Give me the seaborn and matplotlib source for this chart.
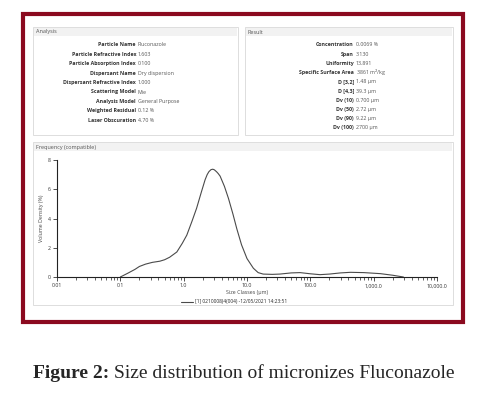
import matplotlib
matplotlib.use('Agg')
import matplotlib.pyplot as plt
from matplotlib.patches import Rectangle
from matplotlib.ticker import FixedLocator, LogLocator, NullFormatter
import pandas as pd
import seaborn as sns

W, H = 497, 393

# size classes (um) and volume density (%)
size_um = [0.1, 0.13, 0.17, 0.2, 0.25, 0.32, 0.42, 0.5, 0.6, 0.78, 0.95, 1.12, 1.35,
           1.6, 1.9, 2.18, 2.35, 2.5, 2.7, 2.88, 3.05, 3.3, 3.5, 3.76, 4.4, 5.1, 6.0,
           6.9, 8.2, 10.0, 12.6, 15.0, 18.0, 25.0, 33.0, 50.0, 69.0, 100.0, 142.0,
           200.0, 300.0, 430.0, 700.0, 1270.0, 2000.0, 2950.0]
density = [0.0, 0.25, 0.52, 0.72, 0.88, 1.0, 1.08, 1.18, 1.35, 1.71, 2.3, 2.86, 3.8,
           4.7, 5.8, 6.65, 7.0, 7.2, 7.34, 7.37, 7.33, 7.2, 7.08, 6.9, 6.2, 5.37, 4.3,
           3.3, 2.2, 1.26, 0.6, 0.3, 0.2, 0.18, 0.2, 0.28, 0.3, 0.22, 0.16, 0.2, 0.28,
           0.32, 0.3, 0.23, 0.12, 0.0]

x_ticks = [0.01, 0.1, 1, 10, 100, 1000, 10000]
x_tick_labels = ['0.01', '0.1', '1.0', '10.0', '100.0', '1,000.0', '10,000.0']
y_ticks = [0, 2, 4, 6, 8]

analysis_labels = ['Particle Name', 'Particle Refractive Index', 'Particle Absorption Index',
                   'Dispersant Name', 'Dispersant Refractive Index', 'Scattering Model',
                   'Analysis Model', 'Weighted Residual', 'Laser Obscuration']
analysis_values = ['Fluconazole', '1.603', '0.100', 'Dry dispersion', '1.000', 'Mie',
                   'General Purpose', '0.12 %', '4.70 %']
result_labels = ['Concentration', 'Span', 'Uniformity', 'Specific Surface Area',
                 'D [3,2]', 'D [4,3]', 'Dv (10)', 'Dv (50)', 'Dv (90)', 'Dv (100)']
result_values = ['0.0069 %', '3.130', '13.891', '3861 m$^2$/kg', '1.48 µm', '39.3 µm',
                 '0.700 µm', '2.72 µm', '9.22 µm', '2700 µm']

sns.set_style('white')
plt.rcParams['font.family'] = ['Open Sans', 'DejaVu Sans']


def fx(x):
    return x / W


def fy(y):
    return 1 - y / H


def box(fig, x0, y0, x1, y1, **kw):
    fig.add_artist(Rectangle((fx(x0), fy(y1)), fx(x1 - x0), (y1 - y0) / H,
                             transform=fig.transFigure, **kw))


fig = plt.figure(figsize=(W / 100, H / 100), dpi=100)

# dark red frame
box(fig, 23, 14, 463, 322, fill=False, edgecolor='#8b0a1f', linewidth=3)

# panels with grey header bands
panels = [(33, 27, 238, 135, 'Analysis'), (245, 27, 453, 135, 'Result'),
          (33, 142, 453, 305, 'Frequency (compatible)')]
for x0, y0, x1, y1, title in panels:
    box(fig, x0, y0, x1, y1, fill=False, edgecolor='#d8d8d8', linewidth=0.6)
    box(fig, x0 + 1, y0 + 1, x1 - 1, y0 + 9, facecolor='#f2f2f2', edgecolor='none')
    fig.text(fx(x0 + 3), fy(y0 + 5), title, fontsize=4, color='#555555', va='center')

row_y = [45 + 9.4 * i for i in range(len(analysis_labels))]
for y, lab, val in zip(row_y, analysis_labels, analysis_values):
    fig.text(fx(136), fy(y), lab, fontsize=3.8, fontweight='bold', ha='right', va='center', color='#333333')
    fig.text(fx(138), fy(y), val, fontsize=3.8, ha='left', va='center', color='#555555')

row_y = [45 + 9.2 * i for i in range(len(result_labels))]
for y, lab, val in zip(row_y, result_labels, result_values):
    fig.text(fx(354), fy(y), lab, fontsize=3.8, fontweight='bold', ha='right', va='center', color='#333333')
    fig.text(fx(356), fy(y), val, fontsize=3.8, ha='left', va='center', color='#555555')

# frequency plot
ax = fig.add_axes([fx(57), fy(277), fx(437 - 57), (277 - 160) / H])
df = pd.DataFrame({'Size': size_um, 'Density': density})
sns.lineplot(data=df, x='Size', y='Density', ax=ax, color='#4a4a4a', linewidth=0.8,
             label='[1] 0210008J4(004) -12/05/2021 14:23:51')
ax.set_xscale('log')
ax.set_xlim(0.01, 10000)
ax.set_ylim(0, 8)
ax.xaxis.set_major_locator(FixedLocator(x_ticks))
ax.set_xticklabels(x_tick_labels)
ax.xaxis.set_minor_locator(LogLocator(base=10, subs=range(2, 10)))
ax.xaxis.set_minor_formatter(NullFormatter())
ax.set_yticks(y_ticks)
ax.tick_params(axis='both', which='major', length=3, width=0.6, labelsize=3.8,
               colors='#333333', pad=1.5, direction='out')
ax.tick_params(axis='x', which='minor', length=2, width=0.5, direction='out')
ax.tick_params(bottom=True, left=True, which='both')
for side in ['top', 'right']:
    ax.spines[side].set_visible(False)
for side in ['left', 'bottom']:
    ax.spines[side].set_color('#222222')
    ax.spines[side].set_linewidth(0.8)
ax.set_xlabel('Size Classes (µm)', fontsize=3.8, color='#444444', labelpad=1.5)
ax.set_ylabel('Volume Density (%)', fontsize=3.8, color='#444444', labelpad=3)
ax.legend(loc='upper center', bbox_to_anchor=(fx(234), fy(297)), bbox_transform=fig.transFigure,
          frameon=False, fontsize=3.5, handlelength=2.5, handletextpad=0.4, borderpad=0)

# caption: bold lead-in followed by regular text
bold = fig.text(fx(33), fy(373), 'Figure 2:', fontsize=14, fontweight='bold',
                family='Liberation Serif', va='center')
fig.canvas.draw()
bb = bold.get_window_extent(renderer=fig.canvas.get_renderer())
fig.text((bb.x1 + 5) / W, fy(373), 'Size distribution of micronizes Fluconazole', fontsize=14,
         family='Liberation Serif', va='center')

fig.savefig('out.png', dpi=100)
